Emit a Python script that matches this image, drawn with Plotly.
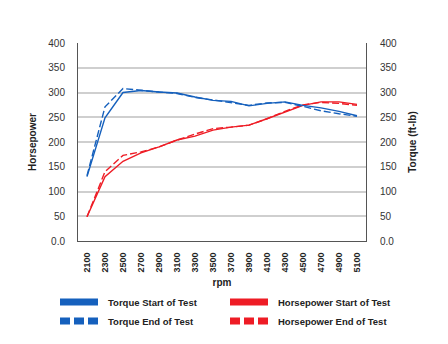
import plotly.graph_objects as go

# Engine speed (rpm) categories
rpm = ["2100", "2300", "2500", "2700", "2900", "3100", "3300", "3500",
       "3700", "3900", "4100", "4300", "4500", "4700", "4900", "5100"]

# Torque (ft-lb)
torque_start = [130, 249, 300, 304, 301, 299, 291, 284, 282, 273, 278, 281, 274, 269, 262, 253]
torque_end   = [132, 271, 308, 304, 301, 298, 290, 285, 280, 274, 279, 280, 272, 263, 257, 252]

# Horsepower
hp_start = [49, 130, 161, 178, 190, 204, 212, 224, 230, 234, 247, 261, 274, 281, 281, 276]
hp_end   = [49, 140, 173, 180, 190, 204, 216, 227, 230, 234, 247, 262, 275, 280, 278, 274]

y_ticks = [0, 50, 100, 150, 200, 250, 300, 350, 400]
y_ticktext = ["0.0", "50", "100", "150", "200", "250", "300", "350", "400"]

BLUE = "#1560bd"
RED = "#ee1c25"
FONT = "Liberation Sans"
W, H = 448, 344
ML, MR, MT, MB = 78, 82, 43, 103
PW, PH = W - ML - MR, H - MT - MB


def px_x(x):
    return (x - ML) / PW


def px_y(y):
    return (H - MB - y) / PH


fig = go.Figure()

# Data lines
fig.add_trace(go.Scatter(x=rpm, y=torque_start, mode="lines", yaxis="y2", name="Torque Start of Test",
                         line=dict(color=BLUE, width=1.4), showlegend=False))
fig.add_trace(go.Scatter(x=rpm, y=torque_end, mode="lines", yaxis="y2", name="Torque End of Test",
                         line=dict(color=BLUE, width=1.4, dash="7px,3px"), showlegend=False))
fig.add_trace(go.Scatter(x=rpm, y=hp_start, mode="lines", name="Horsepower Start of Test",
                         line=dict(color=RED, width=1.4), showlegend=False))
fig.add_trace(go.Scatter(x=rpm, y=hp_end, mode="lines", name="Horsepower End of Test",
                         line=dict(color=RED, width=1.4, dash="7px,3px"), showlegend=False))

# Key below the chart: heavy swatches with bold labels, two columns
key_items = [
    ("Torque Start of Test", BLUE, "solid", 60, 302),
    ("Torque End of Test", BLUE, "10px,4px", 60, 321),
    ("Horsepower Start of Test", RED, "solid", 230, 302),
    ("Horsepower End of Test", RED, "10px,4px", 230, 321),
]
for label, color, dash, x0, y0 in key_items:
    fig.add_shape(type="line", xref="paper", yref="paper",
                  x0=px_x(x0), x1=px_x(x0 + 38), y0=px_y(y0), y1=px_y(y0),
                  line=dict(color=color, width=7, dash=dash))
    fig.add_annotation(text=label, xref="paper", yref="paper",
                       x=px_x(x0 + 46), y=px_y(y0), xanchor="left", yanchor="middle",
                       showarrow=False,
                       font=dict(family=FONT, size=9.5, weight="bold", color="#222"))

fig.update_layout(
    width=W, height=H,
    margin=dict(l=ML, r=MR, t=MT, b=MB),
    paper_bgcolor="white", plot_bgcolor="white",
    font=dict(family=FONT, size=10, color="#333"),
    showlegend=False,
    xaxis=dict(
        type="category", categoryorder="array", categoryarray=rpm,
        range=[-0.5, len(rpm) - 0.5],
        tickangle=-90, tickfont=dict(size=9, weight="bold", color="#222"),
        showgrid=False, showline=True, linecolor="#555", linewidth=1,
        ticks="", ticklen=0, ticklabelstandoff=7,
        title=dict(text="rpm", font=dict(size=10, weight="bold", color="#222"), standoff=7),
    ),
    yaxis=dict(
        range=[0, 400], tickvals=y_ticks, ticktext=y_ticktext,
        showgrid=True, gridcolor="#cfcfcf", gridwidth=1.5,
        showline=True, linecolor="#555", linewidth=1, zeroline=False,
        tickfont=dict(size=10), ticks="", ticklabelstandoff=10,
        title=dict(text="Horsepower", font=dict(size=10, weight="bold", color="#222"), standoff=9),
    ),
    yaxis2=dict(
        range=[0, 400], tickvals=y_ticks, ticktext=y_ticktext,
        overlaying="y", side="right", showgrid=False,
        showline=True, linecolor="#555", linewidth=1, zeroline=False,
        tickfont=dict(size=10), ticks="", ticklabelstandoff=11,
        title=dict(text="Torque (ft-lb)", font=dict(size=10, weight="bold", color="#222"), standoff=12),
    ),
)

fig.write_html("out.html")
